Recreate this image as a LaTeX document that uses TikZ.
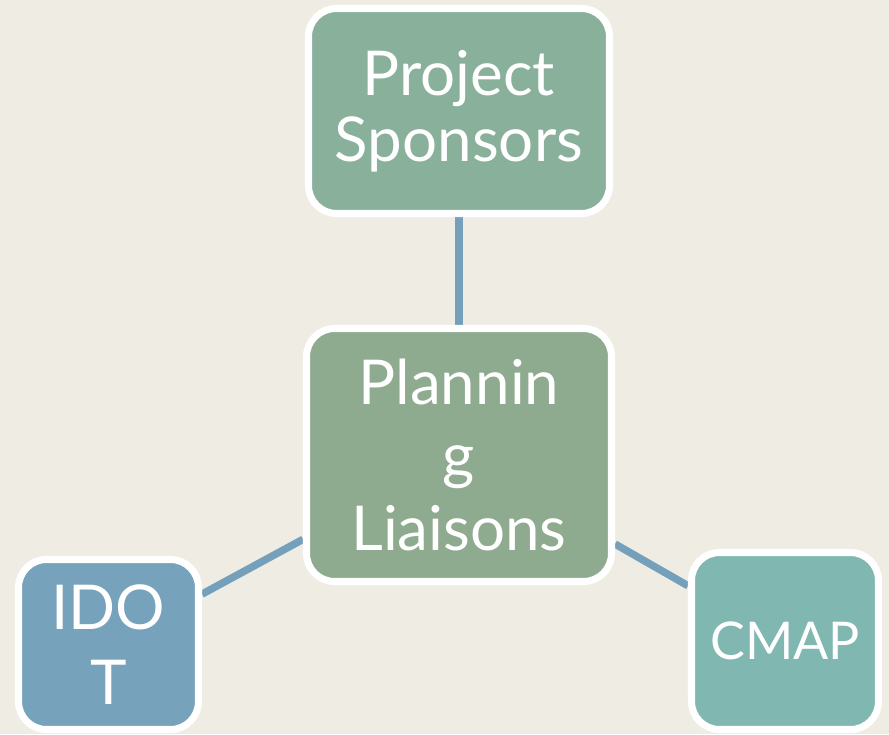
\documentclass[tikz,border=0pt]{standalone}
\usepackage{fontspec}
\setmainfont{Lato}
\usetikzlibrary{backgrounds}
\definecolor{paper}{RGB}{239,236,228}
\definecolor{sponsorgreen}{RGB}{136,176,155}
\definecolor{liaisongreen}{RGB}{142,170,143}
\definecolor{idotblue}{RGB}{118,162,188}
\definecolor{cmapteal}{RGB}{128,184,177}
\definecolor{linkblue}{RGB}{116,160,187}
\pgfdeclarelayer{paperlayer}
\pgfsetlayers{paperlayer,background,main}
\begin{document}
\begin{tikzpicture}[
  box/.style={draw=white,line width=5pt,rounded corners=0.7cm,align=center,text=white,inner sep=0pt},
  link/.style={line width=5.3pt,draw=linkblue}
]
% Paper
\begin{pgfonlayer}{paperlayer}
\fill[paper] (0,0) rectangle (22.225,-18.35);
\end{pgfonlayer}
\useasboundingbox (0,0) rectangle (22.225,-18.35);

% Boxes
\node[box,fill=sponsorgreen,minimum width=7.525cm,minimum height=5.125cm,font=\fontsize{44}{47}\selectfont] (sponsors) at (11.475,-2.775) {Project\\Sponsors};
\node[box,fill=liaisongreen,minimum width=7.625cm,minimum height=6.325cm,font=\fontsize{44}{52}\selectfont] (liaisons) at (11.475,-11.375) {Plannin\\g\\Liaisons};
\node[box,fill=idotblue,minimum width=4.5cm,minimum height=4.25cm,font=\fontsize{44}{53}\selectfont] (idot) at (2.7125,-16.1125) {IDO\\T};
\node[box,fill=cmapteal,minimum width=4.675cm,minimum height=4.425cm,font=\fontsize{37}{42}\selectfont] (cmap) at (19.625,-16.025) {CMAP};

% Connectors
\begin{pgfonlayer}{background}
\draw[link] (liaisons) -- (sponsors);
\draw[link] (liaisons) -- (idot);
\draw[link] (liaisons) -- (cmap);
\end{pgfonlayer}
\end{tikzpicture}
\end{document}
